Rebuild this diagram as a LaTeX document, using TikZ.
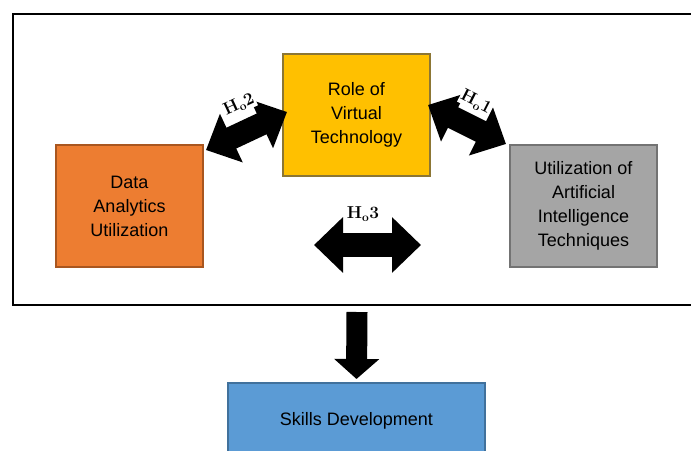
\documentclass[tikz,border=0pt]{standalone}
\usepackage[no-math]{fontspec}
\newfontfamily\boxfont{Liberation Sans}
\usetikzlibrary{arrows.meta}
\definecolor{orangefill}{HTML}{ED7D31}
\definecolor{orangeline}{HTML}{A9561F}
\definecolor{yellowfill}{HTML}{FFC000}
\definecolor{yellowline}{HTML}{8C7634}
\definecolor{grayfill}{HTML}{A5A5A5}
\definecolor{grayline}{HTML}{737373}
\definecolor{bluefill}{HTML}{5B9BD5}
\definecolor{blueline}{HTML}{41719C}
\begin{document}
\begin{tikzpicture}[x=1pt,y=-1pt,
  box/.style={draw,line width=2pt,minimum width=147pt,minimum height=122pt,
    align=center,font=\boxfont\fontsize{18}{24}\selectfont},
  fat/.style={line width=23pt,
    {Triangle[length=28pt,width=52pt]}-{Triangle[length=28pt,width=52pt]}},
  hyp/.style={fill=white,inner sep=1pt,font=\fontsize{17.5}{20}\selectfont}]
\clip (0,0) rectangle (691,450);
% 枠
\draw[line width=2pt] (13,14) rectangle (720,305);
% 各要素
\node[box,fill=yellowfill,draw=yellowline] (tech) at (356.5,115) {Role of\\Virtual\\Technology};
\node[box,fill=orangefill,draw=orangeline] (data) at (129.5,206) {Data\\Analytics\\Utilization};
\node[box,fill=grayfill,draw=grayline] (ai) at (583.5,206) {Utilization of\\Artificial\\Intelligence\\Techniques};
\node[box,fill=bluefill,draw=blueline,minimum width=257pt,minimum height=76pt] (skills) at (356.5,421) {Skills Development};
% 仮説の矢印
\draw[fat] ([shift={(2,6)}]data.north east) -- ([shift={(5,-3)}]tech.west);
\node[hyp,rotate=25] (h2) at (239,105) {$\mathbf{H_o2}$};
\draw[fat] ([shift={(-3,-10)}]tech.east) -- ([shift={(-3,0)}]ai.north west);
\node[hyp,rotate=-27] (h1) at (476,102) {$\mathbf{H_o1}$};
\coordinate (h3l) at (314,245);
\coordinate (h3r) at (421,245);
\draw[line width=24pt,{Triangle[length=29pt,width=54pt]}-{Triangle[length=29pt,width=54pt]}] (h3l) -- (h3r);
\node[hyp] (h3) at (363,214) {$\mathbf{H_o3}$};
% 下向きの矢印
\coordinate (drop) at (357,312);
\draw[line width=21pt,-{Triangle[length=20pt,width=44pt]}] (drop) -- ([yshift=3pt]skills.north);
\end{tikzpicture}
\end{document}
